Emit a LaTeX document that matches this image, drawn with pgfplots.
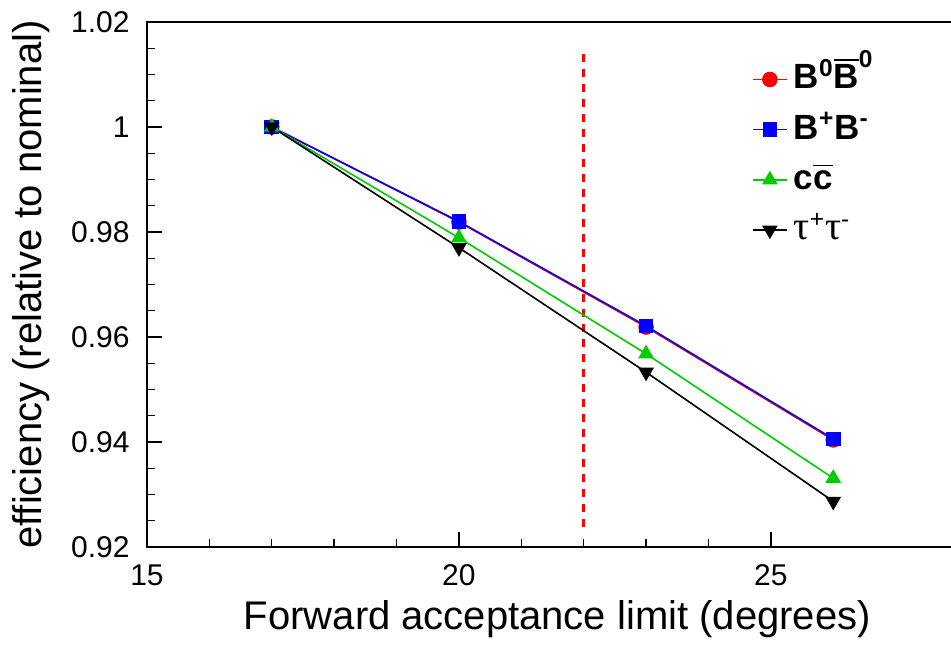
\documentclass[border=0pt]{standalone}
\usepackage{amsmath}
\usepackage{fontspec}
\setmainfont{Liberation Sans}
\newfontfamily\greekfont{Liberation Serif}
\usepackage{pgfplots}
\pgfplotsset{compat=1.18}
\definecolor{rootgreen}{RGB}{0,204,0}
\newcommand{\LG}[1]{\rule[-1pt]{0pt}{12pt}\smash{#1}}
\begin{document}
\begin{tikzpicture}
\useasboundingbox (-73.5pt,-48.5pt) rectangle (402pt,273.5pt);
\begin{axis}[
  at={(0,0)}, anchor=south west,
  scale only axis, width=405.5pt, height=262.5pt,
  xmin=15, xmax=28, ymin=0.92, ymax=1.02,
  xtick={15,20,25}, ytick={0.92,0.94,0.96,0.98,1.0,1.02},
  minor x tick num=4, minor y tick num=3,
  tick pos=left, tick align=inside,
  major tick length=7.5pt, minor tick length=4pt,
  axis line style={line width=0.8pt},
  every tick/.style={black, line width=0.7pt},
  ticklabel style={font=\fontsize{15}{18}\selectfont, inner sep=0pt},
  /pgf/number format/assume math mode=true,
  yticklabel style={/pgf/number format/fixed},
  xticklabel shift=8.5pt, yticklabel shift=8.5pt,
  xlabel={Forward acceptance limit (degrees)},
  ylabel={efficiency (relative to nominal)},
  xlabel style={at={(axis description cs:0.506,-0.158)}, anchor=base, inner sep=0pt, font=\fontsize{20}{24}\selectfont},
  ylabel style={at={(axis description cs:-0.1295,0.5)}, anchor=base, inner sep=0pt, font=\fontsize{20}{24}\selectfont},
  legend style={at={(axis description cs:0.746,0.9143)}, anchor=north west, draw=none, fill=none,
    inner sep=0pt, outer sep=0pt, row sep=12.6pt, column sep=3pt,
    font=\fontsize{17.5}{21}\selectfont\bfseries, nodes={inner sep=0pt}},
  legend cell align=left,
]
\addplot[red, line width=1.5pt, dash pattern=on 3.75pt off 3.75pt, forget plot]
  coordinates {(22,1.0139) (22,0.9232)};
\addplot[red, line width=0.8pt, mark=*, mark size=3.5pt, mark options={solid, fill=red, draw=red}]
  coordinates {(17,1.0) (20,0.9819) (23,0.9619) (26,0.9404)};
\addlegendentry{\LG{B\textsuperscript{0}$\overline{\text{B}}^{\text{0}}$}}
\addplot[blue, line width=0.8pt, mark=square*, mark size=3.25pt, mark options={solid, fill=blue, draw=blue}]
  coordinates {(17,1.0) (20,0.9820) (23,0.9621) (26,0.9406)};
\addlegendentry{\LG{B\textsuperscript{+}B\textsuperscript{-}}}
\addplot[rootgreen, line width=0.8pt, mark=triangle*, mark size=3.75pt, mark options={solid, fill=rootgreen, draw=rootgreen}]
  coordinates {(17,1.0) (20,0.9789) (23,0.9568) (26,0.9331)};
\addlegendentry{\LG{c$\overline{\text{c}}$}}
\addplot[black, line width=0.8pt, mark=triangle*, mark size=3.75pt, mark options={solid, fill=black, draw=black, rotate=180}]
  coordinates {(17,1.0) (20,0.9770) (23,0.9533) (26,0.9287)};
\addlegendentry{\LG{{\greekfont\mdseries\fontsize{20}{24}\selectfont τ}\textsuperscript{\mdseries +}{\greekfont\mdseries\fontsize{20}{24}\selectfont τ}\textsuperscript{\mdseries -}}}
\end{axis}
\end{tikzpicture}
\end{document}
